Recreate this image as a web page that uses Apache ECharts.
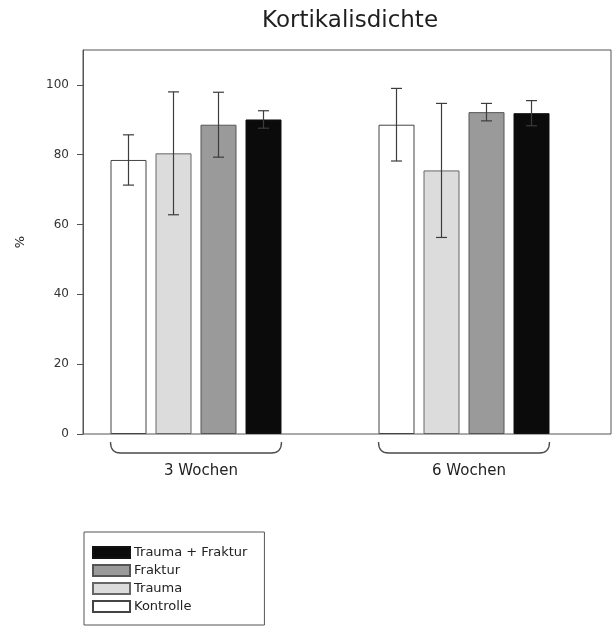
<!DOCTYPE html>
<html>
<head>
<meta charset="utf-8">
<script src="https://cdn.jsdelivr.net/npm/echarts@6/dist/echarts.min.js"></script>
<style>
  html, body { margin: 0; padding: 0; background: #fff; }
  #chart { width: 614px; height: 626px; }
</style>
</head>
<body>
<div id="chart"></div>
<script>
// Study periods on the x axis
const periods = ['3 Wochen', '6 Wochen'];

// Group names, drawn left to right inside each period
const groups = ['Kontrolle', 'Trauma', 'Fraktur', 'Trauma + Fraktur'];

// Mean cortical density (%) per group, one value per period
const kontrolle = [78.5, 88.6];
const trauma = [80.4, 75.5];
const fraktur = [88.6, 92.2];
const traumaFraktur = [90.1, 91.9];

// Standard deviations (%) for the error bars
const kontrolleSD = [7.2, 10.4];
const traumaSD = [17.6, 19.2];
const frakturSD = [9.3, 2.5];
const traumaFrakturSD = [2.5, 3.6];

// Value axis ticks
const yTicks = [0, 20, 40, 60, 80, 100];

const means = [kontrolle, trauma, fraktur, traumaFraktur];
const sds = [kontrolleSD, traumaSD, frakturSD, traumaFrakturSD];
const fills = ['#ffffff', '#dcdcdc', '#9a9a9a', '#0b0b0b'];
const borders = ['#444444', '#666666', '#555555', '#111111'];

const BAR_W = 36;
const BAR_GAP = 9;
const STEP = BAR_W + BAR_GAP;
const FONT = 'DejaVu Sans';

const errorData = [];
means.forEach((arr, s) => {
  arr.forEach((v, c) => errorData.push([c, s, v, sds[s][c]]));
});

const chart = echarts.init(document.getElementById('chart'), null, { renderer: 'canvas' });

const barSeries = groups.map((name, s) => ({
  name,
  type: 'bar',
  xAxisIndex: 1,
  yAxisIndex: 1,
  data: means[s],
  barWidth: BAR_W,
  barGap: (BAR_GAP / BAR_W * 100) + '%',
  itemStyle: { color: fills[s], borderColor: borders[s], borderWidth: 1 },
  emphasis: { disabled: true },
  z: 2
}));

chart.setOption({
  animation: false,
  backgroundColor: '#ffffff',
  title: {
    text: 'Kortikalisdichte',
    left: 262,
    top: 10,
    padding: 0,
    textStyle: { fontFamily: FONT, fontSize: 23, fontWeight: 'normal', color: '#1e1e1e' }
  },
  legend: {
    data: ['Trauma + Fraktur', 'Fraktur', 'Trauma', 'Kontrolle'],
    orient: 'vertical',
    left: 84,
    top: 532,
    padding: [14, 17, 12, 8],
    borderColor: '#555',
    borderWidth: 1,
    itemWidth: 37,
    itemHeight: 11,
    itemGap: 5,
    icon: 'rect',
    selectedMode: false,
    textStyle: { fontFamily: FONT, fontSize: 13, color: '#222', padding: [0, 0, 0, -1], lineHeight: 13 }
  },
  grid: [
    // frame and value axis
    { left: 83, right: 3, top: 50, bottom: 192, show: true, borderColor: '#555', borderWidth: 1, backgroundColor: 'transparent' },
    // bar layout grid
    { left: 62, right: 16, top: 50, bottom: 192 }
  ],
  xAxis: [
    { gridIndex: 0, type: 'value', min: 0, max: 1, show: false },
    {
      gridIndex: 1,
      type: 'category',
      data: periods,
      axisLine: { show: false },
      axisTick: { show: false },
      axisLabel: {
        margin: 30,
        padding: [0, 0, 0, 10],
        fontFamily: FONT,
        fontSize: 15,
        color: '#222'
      }
    }
  ],
  yAxis: [
    {
      gridIndex: 0,
      type: 'value',
      min: 0,
      max: 110,
      interval: 20,
      name: '%',
      nameLocation: 'middle',
      nameGap: 56,
      nameTextStyle: { fontFamily: FONT, fontSize: 13, color: '#222' },
      splitLine: { show: false },
      axisLine: { show: true, lineStyle: { color: '#555', width: 1 } },
      axisTick: { show: true, length: 6, lineStyle: { color: '#555' } },
      axisLabel: {
        margin: 14,
        fontFamily: FONT,
        fontSize: 12,
        color: '#333',
        showMaxLabel: false,
        formatter: v => (yTicks.indexOf(v) >= 0 ? String(v) : '')
      }
    },
    { gridIndex: 1, type: 'value', min: 0, max: 110, show: false }
  ],
  series: [
    ...barSeries,
    {
      // standard deviation whiskers
      type: 'custom',
      xAxisIndex: 1,
      yAxisIndex: 1,
      data: errorData,
      z: 5,
      silent: true,
      renderItem(params, api) {
        const c = api.value(0);
        const s = api.value(1);
        const m = api.value(2);
        const e = api.value(3);
        const base = api.coord([c, m]);
        const x = base[0] + (s - 1.5) * STEP;
        const top = api.coord([c, m + e])[1];
        const bot = api.coord([c, m - e])[1];
        const cap = 5.5;
        const style = { stroke: '#3c3c3c', lineWidth: 1.2 };
        return {
          type: 'group',
          children: [
            { type: 'line', shape: { x1: x, y1: top, x2: x, y2: bot }, style },
            { type: 'line', shape: { x1: x - cap, y1: top, x2: x + cap, y2: top }, style },
            { type: 'line', shape: { x1: x - cap, y1: bot, x2: x + cap, y2: bot }, style }
          ]
        };
      }
    },
    {
      // braces under each period
      type: 'custom',
      xAxisIndex: 1,
      yAxisIndex: 1,
      data: periods.map((p, i) => [i]),
      clip: false,
      silent: true,
      z: 5,
      renderItem(params, api) {
        const p = api.coord([api.value(0), 0]);
        const half = (4 * BAR_W + 3 * BAR_GAP) / 2;
        const cx = p[0];
        const y0 = p[1] + 8;
        const y1 = p[1] + 19;
        const r = 10;
        const d = 'M' + (cx - half) + ' ' + y0 +
          ' Q' + (cx - half) + ' ' + y1 + ' ' + (cx - half + r) + ' ' + y1 +
          ' L' + (cx + half - r) + ' ' + y1 +
          ' Q' + (cx + half) + ' ' + y1 + ' ' + (cx + half) + ' ' + y0;
        return {
          type: 'path',
          shape: { pathData: d },
          style: { fill: 'none', stroke: '#4a4a4a', lineWidth: 1.3 }
        };
      }
    }
  ]
});
</script>
</body>
</html>
